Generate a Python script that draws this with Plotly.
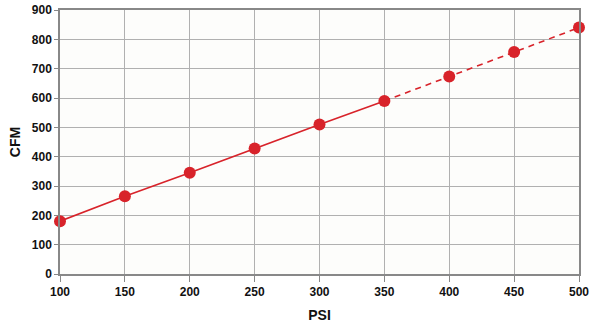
import plotly.graph_objects as go

psi = [100, 150, 200, 250, 300, 350, 400, 450, 500]
cfm = [180, 265, 345, 428, 510, 590, 673, 757, 840]
x_ticks = [100, 150, 200, 250, 300, 350, 400, 450, 500]
y_ticks = [0, 100, 200, 300, 400, 500, 600, 700, 800, 900]

red = "#d8232a"
solid_n = 6  # measured points (solid segment)

fig = go.Figure()
fig.add_trace(go.Scatter(x=psi[:solid_n], y=cfm[:solid_n], mode="lines",
                         line=dict(color=red, width=1.6), showlegend=False, cliponaxis=False))
fig.add_trace(go.Scatter(x=psi[solid_n-1:], y=cfm[solid_n-1:], mode="lines",
                         line=dict(color=red, width=1.6, dash="6px,5px"), showlegend=False,
                         cliponaxis=False))
fig.add_trace(go.Scatter(x=psi, y=cfm, mode="markers", cliponaxis=False,
                         marker=dict(color=red, size=12), showlegend=False))

font = dict(family="Liberation Sans, Arial, sans-serif", size=12, color="#111")
fig.update_layout(
    width=600, height=324,
    margin=dict(l=60, r=21, t=10, b=50),
    paper_bgcolor="white", plot_bgcolor="#fdfdfb",
    font=font,
    xaxis=dict(range=[100, 500], tickvals=x_ticks, ticktext=[f"<b>{v}</b>" for v in x_ticks],
               showgrid=True, gridcolor="#b0b0b0", gridwidth=1,
               showline=True, linecolor="#888", linewidth=1.5, mirror=True,
               ticks="outside", ticklen=6, tickcolor="#888", automargin=False,
               title=dict(text="<b>PSI</b>", standoff=12), zeroline=False),
    yaxis=dict(range=[0, 900], tickvals=y_ticks, ticktext=[f"<b>{v}</b>" for v in y_ticks],
               showgrid=True, gridcolor="#b0b0b0", gridwidth=1,
               showline=True, linecolor="#888", linewidth=1.5, mirror=True,
               ticks="outside", ticklen=4, tickcolor="#888", automargin=False,
               title=dict(text="<b>CFM</b>", standoff=8), zeroline=False),
)
fig.write_html("out.html")
